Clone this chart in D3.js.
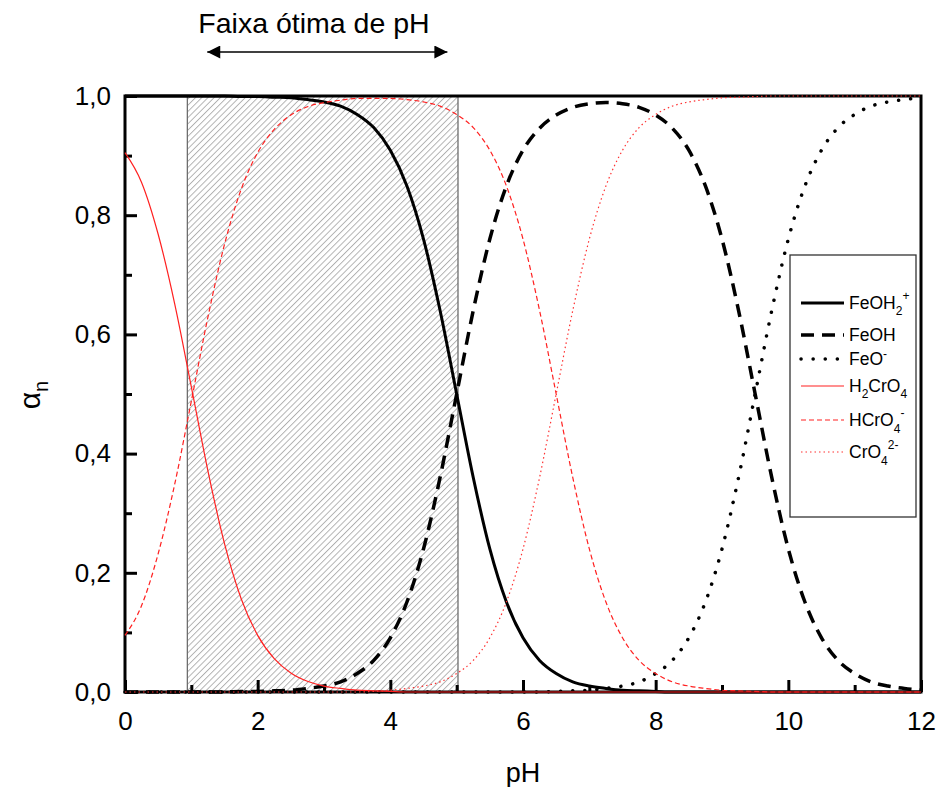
<!DOCTYPE html>
<html>
<head>
<meta charset="utf-8">
<script src="https://cdn.jsdelivr.net/npm/d3@7"></script>
<style>
  body { margin: 0; background: #fff; }
  text { font-family: "Liberation Sans", Arial, sans-serif; fill: #000; }
</style>
</head>
<body>
<svg id="chart" width="939" height="787"></svg>
<script>
// pH grid shared by every species curve
const pH = [0, 0.25, 0.5, 0.75, 1, 1.25, 1.5, 1.75, 2, 2.25, 2.5, 2.75, 3, 3.25, 3.5, 3.75,
  4, 4.25, 4.5, 4.75, 5, 5.25, 5.5, 5.75, 6, 6.25, 6.5, 6.75, 7, 7.25, 7.5, 7.75,
  8, 8.25, 8.5, 8.75, 9, 9.25, 9.5, 9.75, 10, 10.25, 10.5, 10.75, 11, 11.25, 11.5, 11.75, 12];

// Fraction (alpha) of each species
const feOH2 = [1, 1, 1, 1, 1, 1, 1, 0.999, 0.999, 0.998, 0.997, 0.994, 0.990, 0.983, 0.969, 0.947,
  0.909, 0.849, 0.760, 0.640, 0.500, 0.360, 0.240, 0.151, 0.091, 0.053, 0.031, 0.017, 0.010, 0.006, 0.003, 0.002,
  0.001, 0, 0, 0, 0, 0, 0, 0, 0, 0, 0, 0, 0, 0, 0, 0, 0];
const feOH = [0, 0, 0, 0, 0, 0, 0, 0.001, 0.001, 0.002, 0.003, 0.006, 0.010, 0.017, 0.031, 0.053,
  0.091, 0.151, 0.240, 0.360, 0.500, 0.640, 0.760, 0.849, 0.909, 0.946, 0.968, 0.981, 0.987, 0.989, 0.987, 0.981,
  0.968, 0.946, 0.909, 0.849, 0.760, 0.640, 0.500, 0.360, 0.240, 0.151, 0.091, 0.053, 0.031, 0.017, 0.010, 0.006, 0.003];
const feO = [0, 0, 0, 0, 0, 0, 0, 0, 0, 0, 0, 0, 0, 0, 0, 0,
  0, 0, 0, 0, 0, 0, 0, 0, 0, 0, 0.001, 0.002, 0.003, 0.006, 0.010, 0.017,
  0.031, 0.053, 0.091, 0.151, 0.240, 0.360, 0.500, 0.640, 0.760, 0.849, 0.909, 0.947, 0.969, 0.983, 0.990, 0.994, 0.997];
const h2CrO4 = [0.905, 0.855, 0.768, 0.651, 0.512, 0.371, 0.249, 0.157, 0.095, 0.056, 0.032, 0.018, 0.010, 0.006, 0.003, 0.002,
  0.001, 0, 0, 0, 0, 0, 0, 0, 0, 0, 0, 0, 0, 0, 0, 0,
  0, 0, 0, 0, 0, 0, 0, 0, 0, 0, 0, 0, 0, 0, 0, 0, 0];
const hCrO4 = [0.095, 0.145, 0.232, 0.349, 0.488, 0.629, 0.751, 0.843, 0.905, 0.944, 0.968, 0.982, 0.989, 0.993, 0.996, 0.996,
  0.996, 0.994, 0.990, 0.983, 0.969, 0.947, 0.909, 0.849, 0.760, 0.640, 0.500, 0.360, 0.240, 0.151, 0.091, 0.053,
  0.031, 0.017, 0.010, 0.006, 0.003, 0.002, 0.001, 0, 0, 0, 0, 0, 0, 0, 0, 0, 0];
const crO4 = [0, 0, 0, 0, 0, 0, 0, 0, 0, 0, 0, 0, 0, 0, 0, 0.001,
  0.003, 0.006, 0.010, 0.017, 0.031, 0.053, 0.091, 0.151, 0.240, 0.360, 0.500, 0.640, 0.760, 0.849, 0.909, 0.947,
  0.969, 0.983, 0.990, 0.994, 0.997, 0.998, 0.999, 1, 1, 1, 1, 1, 1, 1, 1, 1, 1];

const xTicks = [0, 1, 2, 3, 4, 5, 6, 7, 8, 9, 10, 11, 12];
const xLabels = [0, 2, 4, 6, 8, 10, 12];
const yTicks = [0, 0.1, 0.2, 0.3, 0.4, 0.5, 0.6, 0.7, 0.8, 0.9, 1.0];
const yLabels = [0, 0.2, 0.4, 0.6, 0.8, 1.0];
const optimalRange = [0.94, 5.02];     // shaded pH window
const arrowRange = [1.24, 4.86];       // arrow under the title

const series = [
  { name: "FeOH2+", values: feOH2, color: "#000", width: 3, dash: null, cap: "butt" },
  { name: "FeOH", values: feOH, color: "#000", width: 3.5, dash: "13,8", cap: "butt" },
  { name: "FeO-", values: feO, color: "#000", width: 3.5, dash: "0.1,12", cap: "round" },
  { name: "H2CrO4", values: h2CrO4, color: "#ff2020", width: 1.2, dash: null, cap: "butt" },
  { name: "HCrO4-", values: hCrO4, color: "#ff2020", width: 1.2, dash: "5,3", cap: "butt" },
  { name: "CrO42-", values: crO4, color: "#ff3030", width: 1.2, dash: "1.5,3", cap: "butt" }
];

const svg = d3.select("#chart");
const plotLeft = 125, plotRight = 921, plotTop = 96, plotBottom = 692;
const x = d3.scaleLinear().domain([0, 12]).range([plotLeft, plotRight]);
const y = d3.scaleLinear().domain([0, 1]).range([plotBottom, plotTop]);
const comma = v => d3.format(".1f")(v).replace(".", ",");
const isLabelled = (list, d) => list.some(v => Math.abs(v - d) < 1e-9);

// hatch pattern for the optimal pH band, arrowheads for the title arrow
const defs = svg.append("defs");
defs.append("pattern")
  .attr("id", "hatch").attr("patternUnits", "userSpaceOnUse")
  .attr("width", 4.4).attr("height", 4.4).attr("patternTransform", "rotate(45)")
  .append("line").attr("x1", 0.5).attr("y1", 0).attr("x2", 0.5).attr("y2", 4.4)
  .attr("stroke", "#a0a0a0").attr("stroke-width", 0.8);
defs.append("marker").attr("id", "head").attr("viewBox", "0 0 10 10")
  .attr("refX", 10).attr("refY", 5).attr("markerWidth", 15).attr("markerHeight", 13)
  .attr("markerUnits", "userSpaceOnUse").attr("orient", "auto-start-reverse")
  .append("path").attr("d", "M0,0 L10,5 L0,10 Z").attr("fill", "#000");

svg.append("rect")
  .attr("x", x(optimalRange[0])).attr("y", plotTop)
  .attr("width", x(optimalRange[1]) - x(optimalRange[0])).attr("height", plotBottom - plotTop)
  .attr("fill", "url(#hatch)").attr("stroke", "#6e6e6e").attr("stroke-width", 1.3);

// axes with inward ticks
const xAxis = svg.append("g").attr("transform", `translate(0,${plotBottom})`)
  .call(d3.axisBottom(x).tickValues(xTicks).tickSize(0).tickPadding(20)
    .tickFormat(d => isLabelled(xLabels, d) ? d : ""));
xAxis.select(".domain").remove();
xAxis.selectAll(".tick text").attr("font-size", 26).attr("dy", "0.71em")
  .style("font-family", "'Liberation Sans', Arial, sans-serif");
xAxis.selectAll(".tick line").attr("y2", d => isLabelled(xLabels, d) ? -12 : -7)
  .attr("stroke", "#000").attr("stroke-width", 3);

const yAxis = svg.append("g").attr("transform", `translate(${plotLeft},0)`)
  .call(d3.axisLeft(y).tickValues(yTicks).tickSize(0).tickPadding(14)
    .tickFormat(d => isLabelled(yLabels, d) ? comma(d) : ""));
yAxis.select(".domain").remove();
yAxis.selectAll(".tick text").attr("font-size", 26)
  .style("font-family", "'Liberation Sans', Arial, sans-serif");
yAxis.selectAll(".tick line")
  .attr("x2", d => isLabelled(yLabels, d) ? 12 : 7)
  .attr("stroke", "#000").attr("stroke-width", 3);

// frame
svg.append("rect").attr("x", plotLeft).attr("y", plotTop)
  .attr("width", plotRight - plotLeft).attr("height", plotBottom - plotTop)
  .attr("fill", "none").attr("stroke", "#000").attr("stroke-width", 3);

// species curves
const line = d3.line().x((d, i) => x(pH[i])).y(d => y(d)).curve(d3.curveMonotoneX);
svg.append("g").selectAll("path").data(series).join("path")
  .attr("d", s => line(s.values))
  .attr("fill", "none").attr("stroke", s => s.color).attr("stroke-width", s => s.width)
  .attr("stroke-dasharray", s => s.dash).attr("stroke-linecap", s => s.cap);

// title and arrow
svg.append("text").attr("x", 314).attr("y", 33).attr("text-anchor", "middle")
  .attr("font-size", 28.5).text("Faixa ótima de pH");
svg.append("line").attr("x1", x(arrowRange[0])).attr("x2", x(arrowRange[1]))
  .attr("y1", 52).attr("y2", 52).attr("stroke", "#000").attr("stroke-width", 1.5)
  .attr("marker-start", "url(#head)").attr("marker-end", "url(#head)");

// axis titles
svg.append("text").attr("x", 523).attr("y", 782).attr("text-anchor", "middle")
  .attr("font-size", 27).text("pH");
const yt = svg.append("text").attr("transform", "translate(40,395) rotate(-90)")
  .attr("text-anchor", "middle").attr("font-size", 30);
yt.append("tspan").text("α");
yt.append("tspan").attr("font-size", 20).attr("dy", 8).text("n");

// legend
const legend = svg.append("g");
legend.append("rect").attr("x", 790).attr("y", 255).attr("width", 126).attr("height", 262)
  .attr("fill", "#fff").attr("stroke", "#333").attr("stroke-width", 1.3);
const legendRows = [
  { y: 303, parts: [["FeOH", 0], ["2", 6], ["+", -15]] },
  { y: 335, parts: [["FeOH", 0]] },
  { y: 359, parts: [["FeO", 0], ["-", -7]] },
  { y: 386, parts: [["H", 0], ["2", 6], ["CrO", -6], ["4", 6]] },
  { y: 420, parts: [["HCrO", 0], ["4", 7], ["-", -16]] },
  { y: 452, parts: [["CrO", 0], ["4", 7], ["2-", -16]] }
];
legendRows.forEach((row, i) => {
  const s = series[i];
  legend.append("line").attr("x1", 801).attr("x2", 844).attr("y1", row.y).attr("y2", row.y)
    .attr("stroke", s.color).attr("stroke-width", s.width)
    .attr("stroke-dasharray", s.dash).attr("stroke-linecap", s.cap);
  const t = legend.append("text").attr("x", 849).attr("y", row.y + 6).attr("font-size", 17.5);
  row.parts.forEach(([txt, dy], j) => {
    const sp = t.append("tspan").attr("dy", dy).text(txt);
    if (j > 0 && txt !== "CrO") sp.attr("font-size", 12);
  });
});
</script>
</body>
</html>
